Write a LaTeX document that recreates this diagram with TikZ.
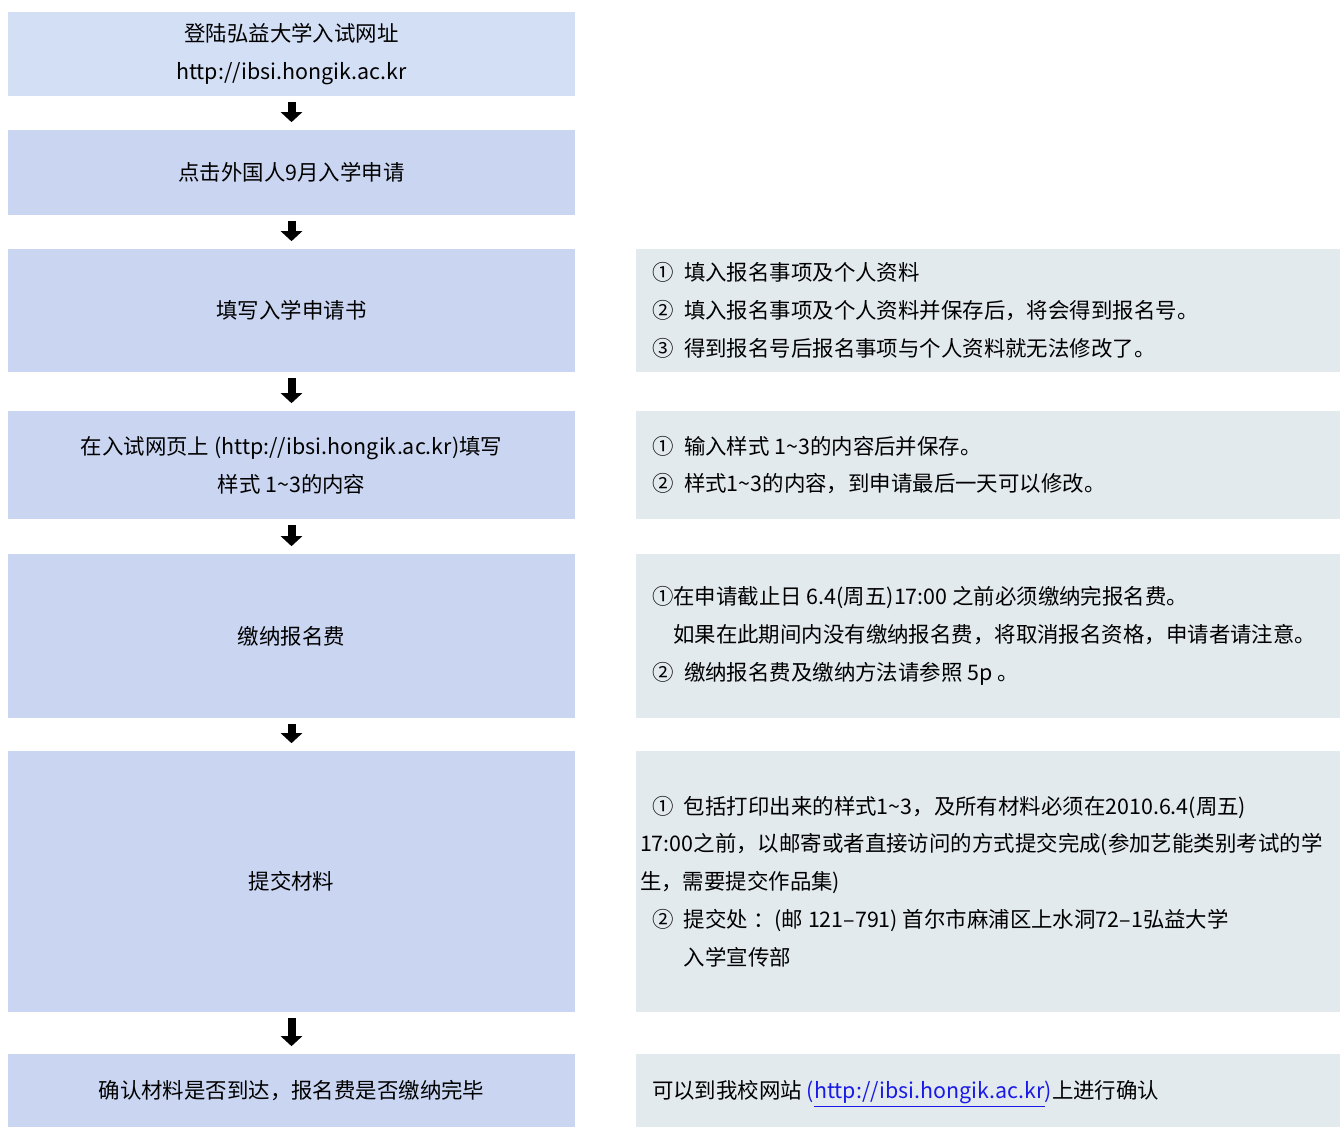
\documentclass[tikz,border=0pt]{standalone}
\usepackage{fontspec}
\setmainfont{Noto Sans CJK SC}
\usetikzlibrary{arrows.meta}
\definecolor{stepfirst}{HTML}{D3DFF5}
\definecolor{stepblue}{HTML}{C9D5F1}
\definecolor{notegray}{HTML}{E3EAEE}
\definecolor{linkblue}{HTML}{1A1AE6}
\newcommand{\numgap}{\hspace{6pt}}
\tikzset{
  stepbox/.style={fill=stepblue, minimum width=11.34cm, inner sep=0pt, align=center,
    font={\fontsize{12.2pt}{21.5pt}\selectfont}},
  notebox/.style={fill=notegray, minimum width=14.08cm, inner sep=0pt},
  notetext/.style={anchor=west, inner sep=0pt, align=left,
    font={\fontsize{12.2pt}{21.5pt}\selectfont}},
  flow/.style={line width=0.16cm, -{Triangle[width=0.42cm,length=0.2cm]},
    shorten <=0.11cm, shorten >=0.15cm}
}
\begin{document}
\begin{tikzpicture}[x=0.02cm,y=-0.02cm]
        \useasboundingbox (0,0) rectangle (1340,1127);

        % Schritte links
        \node[stepbox, fill=stepfirst, minimum height=1.68cm] (s1) at (291.5,54) {登陆弘益大学入试网址\\http://ibsi.hongik.ac.kr};
        \node[stepbox, minimum height=1.70cm] (s2) at (291.5,172.5) {点击外国人9月入学申请};
        \node[stepbox, minimum height=2.46cm] (s3) at (291.5,310.5) {填写入学申请书};
        \node[stepbox, minimum height=2.16cm] (s4) at (291.5,465) {在入试网页上 (http://ibsi.hongik.ac.kr)填写\\样式 1\textasciitilde3的内容};
        \node[stepbox, minimum height=3.28cm] (s5) at (291.5,636) {缴纳报名费};
        \node[stepbox, minimum height=5.22cm] (s6) at (291.5,881.5) {提交材料};
        \node[stepbox, minimum height=1.46cm] (s7) at (291.5,1090.5) {确认材料是否到达，报名费是否缴纳完毕};

        % Pfeile
        \draw[flow] (s1) -- (s2);
        \draw[flow] (s2) -- (s3);
        \draw[flow] (s3) -- (s4);
        \draw[flow] (s4) -- (s5);
        \draw[flow] (s5) -- (s6);
        \draw[flow] (s6) -- (s7);

        % Hinweise rechts
        \node[notebox, minimum height=2.46cm] (n3) at (988,310.5) {};
        \node[notebox, minimum height=2.16cm] (n4) at (988,465) {};
        \node[notebox, minimum height=3.28cm] (n5) at (988,636) {};
        \node[notebox, minimum height=5.22cm] (n6) at (988,881.5) {};
        \node[notebox, minimum height=1.46cm] (n7) at (988,1090.5) {};

        \node[notetext] (t3) at ([xshift=0.32cm]n3.west) {①\numgap 填入报名事项及个人资料\\②\numgap 填入报名事项及个人资料并保存后，将会得到报名号。\\③\numgap 得到报名号后报名事项与个人资料就无法修改了。};
        \node[notetext] (t4) at ([xshift=0.32cm]n4.west) {①\numgap 输入样式 1\textasciitilde3的内容后并保存。\\②\numgap 样式1\textasciitilde3的内容，到申请最后一天可以修改。};
        \node[notetext] (t5) at ([xshift=0.32cm]n5.west) {①在申请截止日 6.4(周五)17:00 之前必须缴纳完报名费。\\\hspace*{12pt}如果在此期间内没有缴纳报名费，将取消报名资格，申请者请注意。\\②\numgap 缴纳报名费及缴纳方法请参照 5p 。};
        \node[notetext] (t6) at ([xshift=0.08cm]n6.west) {\hspace*{6.8pt}①\numgap 包括打印出来的样式1\textasciitilde3，及所有材料必须在2010.6.4(周五)\\17:00之前，以邮寄或者直接访问的方式提交完成(参加艺能类别考试的学\\生，需要提交作品集)\\\hspace*{6.8pt}②\numgap 提交处 ：(邮 121–791) 首尔市麻浦区上水洞72–1弘益大学\\\hspace*{25pt}入学宣传部};
        \node[notetext] (t7) at ([xshift=0.32cm,yshift=-0.07cm]n7.west) {可以到我校网站 {\color{linkblue}(\underline{http://ibsi.hongik.ac.kr})}上进行确认};
\end{tikzpicture}
\end{document}
